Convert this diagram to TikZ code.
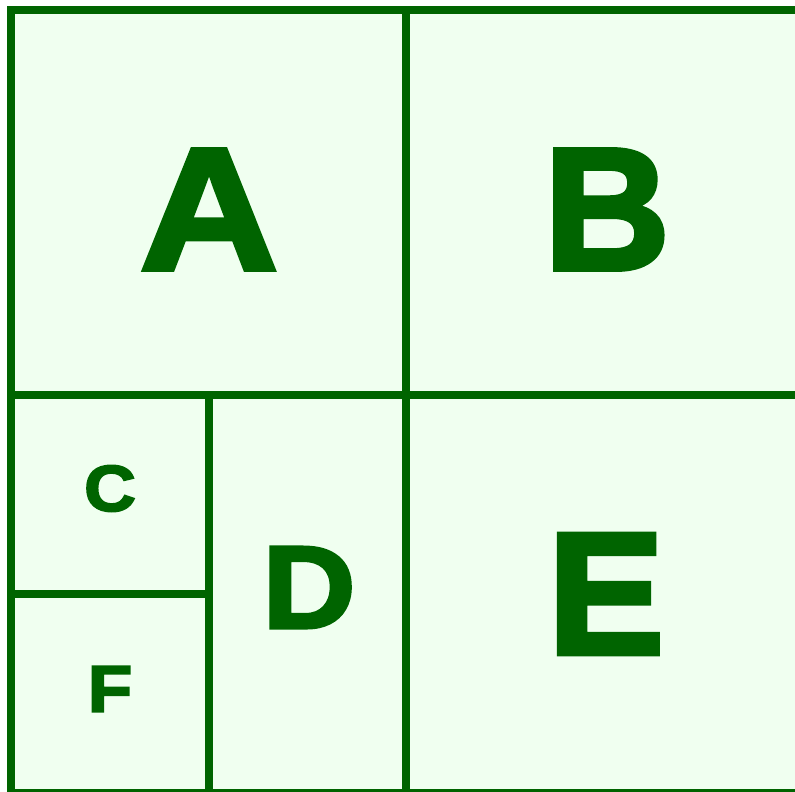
\documentclass[tikz,border=0pt]{standalone}
\usepackage{fontspec}
\setmainfont{Liberation Sans}
\newfontfamily\heavyfont[UprightFont={* Bold}, FakeBold=3, FakeStretch=1.1]{Liberation Sans}
\newfontfamily\heavynarrow[UprightFont={* Bold}, FakeBold=3]{Liberation Sans}
\usetikzlibrary{positioning}
\definecolor{leafgreen}{HTML}{006400}
\definecolor{paleleaf}{HTML}{F0FFF0}

\begin{document}
\begin{tikzpicture}[x=1pt, y=-1pt,
    wall/.style={draw=leafgreen, line width=8pt},
    letter/.style={text=leafgreen, font=\heavyfont, inner sep=0pt}]
    \useasboundingbox (0,0) rectangle (795,792);
    \clip (0,0) rectangle (795,792);

    \coordinate (TL) at (11,10.5);
    \coordinate (BR) at (801,793);
    \fill[paleleaf] (TL) rectangle (BR);

    % splits
    \draw[wall] (406,10.5) -- (406,793);
    \draw[wall] (11,395) -- (801,395);
    \draw[wall] (209,395) -- (209,793);
    \draw[wall] (11,594) -- (209,594);
    \draw[wall] (TL) rectangle (BR);

    % labels
    \node[letter, font=\heavyfont\fontsize{174}{174}\selectfont] (lblA) at (209,209.5) {A};
    \node[letter, font=\heavynarrow\fontsize{174}{174}\selectfont] (lblB) at (607,209.5) {B};
    \node[letter, font=\heavyfont\fontsize{65}{65}\selectfont] (lblC) at (110,488.5) {C};
    \node[letter, font=\heavyfont\fontsize{117}{117}\selectfont] (lblD) at (309,587.5) {D};
    \node[letter, font=\heavynarrow\fontsize{174}{174}\selectfont] (lblE) at (606,594) {E};
    \node[letter, font=\heavyfont\fontsize{66}{66}\selectfont] (lblF) at (110,689) {F};
\end{tikzpicture}
\end{document}
